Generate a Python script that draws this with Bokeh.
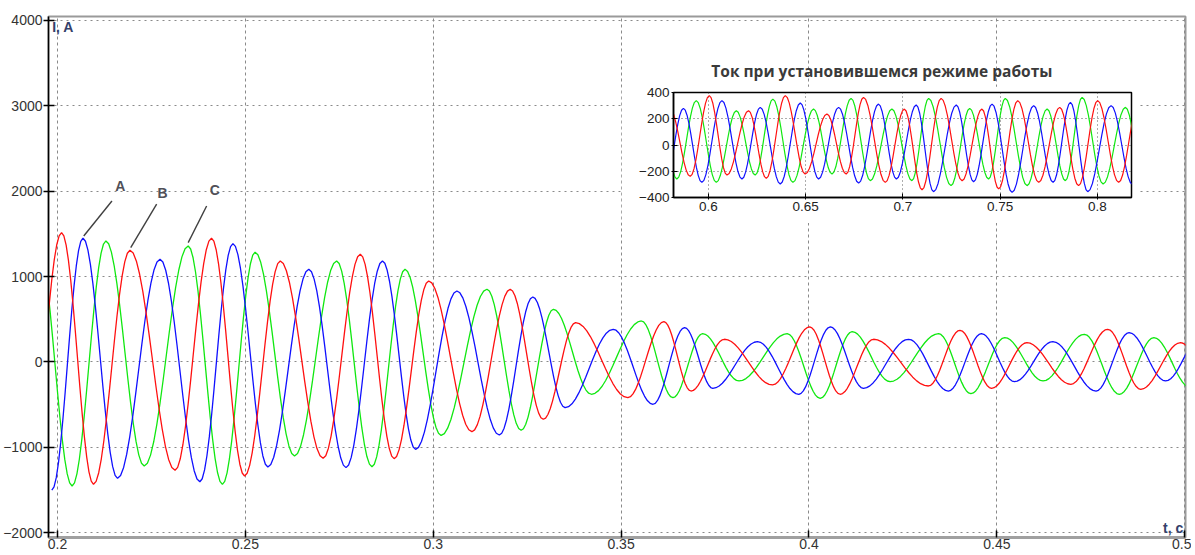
import math
from bokeh.plotting import figure
from bokeh.layouts import column
from bokeh.models import Range1d, FixedTicker
from bokeh.core.properties import value
from bokeh.embed import file_html
from bokeh.resources import INLINE

# ---------------- data: extrema (time s, current A) ----------------
# main window, phase A (blue)
main_a_t = [0.1985, 0.2068, 0.2160, 0.2273, 0.2379, 0.2467, 0.2560, 0.2669, 0.2768, 0.2865, 0.2953,
            0.3063, 0.3176, 0.3265, 0.3351, 0.3479, 0.3585, 0.3669, 0.3744, 0.3863, 0.3973, 0.4057,
            0.4145, 0.4265, 0.4371, 0.4459, 0.4547, 0.4649, 0.4764, 0.4852, 0.4949, 0.5045]
main_a_i = [-1500, 1449, -1362, 1203, -1402, 1386, -1230, 1085, -1237, 1183, -1023,
            831, -855, 761, -535, 383, -495, 402, -308, 238, -378, 410,
            -308, 266, -340, 331, -230, 238, -340, 343, -222, 300]
# main window, phase B (red)
main_b_t = [0.1920, 0.2011, 0.2096, 0.2193, 0.2313, 0.2410, 0.2498, 0.2593, 0.2707, 0.2806, 0.2896,
            0.2988, 0.3103, 0.3205, 0.3293, 0.3379, 0.3518, 0.3614, 0.3686, 0.3775, 0.3903, 0.4002,
            0.4083, 0.4172, 0.4318, 0.4402, 0.4486, 0.4580, 0.4697, 0.4795, 0.4883, 0.4989, 0.5080]
main_b_i = [-1400, 1514, -1432, 1308, -1268, 1449, -1335, 1183, -1128, 1261, -1132,
            948, -816, 851, -671, 460, -418, 472, -340, 266, -269, 410,
            -378, 266, -281, 371, -308, 226, -261, 383, -320, 226, -300]
# main window, phase C (green)
main_c_t = [0.1948, 0.2039, 0.2129, 0.2231, 0.2348, 0.2439, 0.2526, 0.2631, 0.2743, 0.2837, 0.2925,
            0.3021, 0.3143, 0.3234, 0.3320, 0.3421, 0.3554, 0.3638, 0.3717, 0.3814, 0.3942, 0.4030,
            0.4115, 0.4216, 0.4345, 0.4431, 0.4521, 0.4623, 0.4733, 0.4826, 0.4918, 0.5015]
main_c_i = [1400, -1452, 1417, -1218, 1358, -1432, 1285, -1101, 1183, -1226, 1085,
            -860, 851, -800, 617, -378, 480, -418, 331, -222, 331, -425,
            355, -230, 331, -371, 285, -222, 324, -378, 285, -300]

# inset (steady state), phase A (blue)
ins_a_t = [0.5775, 0.5871, 0.5966, 0.6069, 0.6172, 0.6266, 0.6369, 0.6472, 0.6566, 0.6669, 0.6772,
           0.6874, 0.6966, 0.7068, 0.7157, 0.7274, 0.7363, 0.7458, 0.7561, 0.7672, 0.7772, 0.7861,
           0.7950, 0.8070, 0.8180]
ins_a_i = [-300, 279, -285, 338, -259, 287, -297, 320, -259, 287, -290,
           312, -259, 305, -356, 305, -280, 312, -361, 300, -285, 325,
           -356, 300, -300]
# inset, phase B (red)
ins_b_t = [0.5800, 0.5906, 0.6004, 0.6095, 0.6206, 0.6297, 0.6395, 0.6497, 0.6609, 0.6708, 0.6797,
           0.6909, 0.7007, 0.7098, 0.7196, 0.7304, 0.7406, 0.7492, 0.7590, 0.7698, 0.7806, 0.7903,
           0.8001, 0.8109, 0.8210]
ins_b_i = [280, -239, 376, -229, 261, -254, 376, -221, 236, -221, 363,
           -285, 274, -341, 355, -272, 274, -335, 338, -285, 287, -310,
           338, -285, 300]
# inset, phase C (green)
ins_c_t = [0.5745, 0.5837, 0.5937, 0.6040, 0.6143, 0.6240, 0.6331, 0.6434, 0.6540, 0.6635, 0.6733,
           0.6832, 0.6943, 0.7046, 0.7132, 0.7247, 0.7343, 0.7440, 0.7526, 0.7638, 0.7741, 0.7835,
           0.7921, 0.8029, 0.8144, 0.8240]
ins_c_i = [300, -259, 338, -285, 261, -229, 350, -285, 274, -221, 355,
           -272, 274, -272, 355, -310, 279, -259, 355, -310, 274, -272,
           363, -297, 287, -300]

main_x_ticks = [0.2, 0.25, 0.3, 0.35, 0.4, 0.45, 0.5]
main_x_labels = ["0.2", "0.25", "0.3", "0.35", "0.4", "0.45", "0.5"]
main_y_ticks = [-2000, -1000, 0, 1000, 2000, 3000, 4000]
ins_x_ticks = [0.6, 0.65, 0.7, 0.75, 0.8]
ins_x_labels = ["0.6", "0.65", "0.7", "0.75", "0.8"]
ins_y_ticks = [-400, -200, 0, 200, 400]
phase_names = ["A", "B", "C"]
inset_title = "Ток при установившемся режиме работы"
y_axis_label = "I, A"
x_axis_label = "t, c"

COL_A, COL_B, COL_C = "#1010ff", "#ff1010", "#10e810"
FONT = "Liberation Sans"


def smooth(ts, vs, n=14):
    """Smooth half-wave shape between consecutive read extrema."""
    xs, ys = [], []
    for k in range(len(ts) - 1):
        t0, t1, v0, v1 = ts[k], ts[k + 1], vs[k], vs[k + 1]
        for j in range(n):
            f = j / n
            xs.append(t0 + (t1 - t0) * f)
            ys.append((v0 + v1) / 2 + (v0 - v1) / 2 * math.cos(math.pi * f))
    xs.append(ts[-1]); ys.append(vs[-1])
    return xs, ys


# ---------------- main figure ----------------
p = figure(width=1199, height=555, output_backend="svg", toolbar_location=None,
           x_range=Range1d(0.19762, 0.50021), y_range=Range1d(-2055, 4045),
           min_border_left=52, min_border_right=5, min_border_top=16, min_border_bottom=18)
p.margin = (0, 0, 0, -4)
p.background_fill_color = "white"
p.border_fill_color = "white"
p.outline_line_color = "#9a9a9a"
p.outline_line_width = 2

p.xaxis.ticker = FixedTicker(ticks=main_x_ticks)
p.xaxis.major_label_overrides = {t: s for t, s in zip(main_x_ticks, main_x_labels)}
p.yaxis.ticker = FixedTicker(ticks=main_y_ticks)
for ax in (p.xaxis, p.yaxis):
    ax.major_label_text_font = FONT
    ax.major_label_text_font_size = "14px"
    ax.major_label_text_color = "#333333"
    ax.minor_tick_line_color = None
    ax.major_tick_line_color = "black"
    ax.major_tick_line_width = 1.5
p.xaxis.axis_line_color = "#a0a0a0"
p.xaxis.axis_line_width = 3
p.xaxis.major_tick_in = 7
p.xaxis.major_tick_out = 0
p.xaxis.major_label_standoff = 1
p.yaxis.axis_line_color = "black"
p.yaxis.axis_line_width = 1.5
p.yaxis.major_tick_in = 6
p.yaxis.major_tick_out = 5
p.yaxis.major_label_standoff = 1

p.xgrid.ticker = FixedTicker(ticks=main_x_ticks)
p.ygrid.ticker = FixedTicker(ticks=main_y_ticks)
p.xgrid.grid_line_color = "#8a8a8a"
p.xgrid.grid_line_dash = "3 3"
p.ygrid.grid_line_color = "#8a8a8a"
p.ygrid.grid_line_dash = "2 4"

for ts, vs, col in ((main_c_t, main_c_i, COL_C), (main_a_t, main_a_i, COL_A), (main_b_t, main_b_i, COL_B)):
    xs, ys = smooth(ts, vs)
    p.line(xs, ys, line_color=col, line_width=1.3)

# phase labels with leader lines
p.segment(x0=[0.2145, 0.2264, 0.2397], y0=[1885, 1847, 1827],
          x1=[0.2070, 0.2195, 0.2348], y1=[1475, 1338, 1397],
          line_color="#404040", line_width=1.4)
p.text(x=[0.2167, 0.2280, 0.2419], y=[2061, 1982, 2008], text=phase_names,
       text_font=value(FONT), text_font_size="14px", text_font_style="bold",
       text_color="#505058", text_align="center", text_baseline="middle")

p.text(x=[0.19860], y=[3920], text=[y_axis_label], text_font=value(FONT), text_font_size="14px",
       text_font_style="bold", text_color="#34406a", text_align="left", text_baseline="middle")
p.text(x=[0.4996], y=[-1944], text=[x_axis_label], text_font=value(FONT), text_font_size="14px",
       text_font_style="bold", text_color="#34406a", text_align="right", text_baseline="middle")
p.text(x=[0.4194], y=[3408], text=[inset_title], text_font=value("Open Sans"), text_font_size="15.5px",
       text_font_style="bold", text_color="#3a3a3a", text_align="center", text_baseline="middle")

# ---------------- inset figure ----------------
q = figure(frame_width=458, frame_height=105, output_backend="svg", toolbar_location=None,
           x_range=Range1d(0.582, 0.8175), y_range=Range1d(-400, 400),
           min_border_left=52, min_border_right=6, min_border_top=6, min_border_bottom=26)
q.background_fill_color = "white"
q.border_fill_color = "white"
q.outline_line_color = "black"
q.outline_line_width = 1.5
q.xaxis.ticker = FixedTicker(ticks=ins_x_ticks)
q.xaxis.major_label_overrides = {t: s for t, s in zip(ins_x_ticks, ins_x_labels)}
q.yaxis.ticker = FixedTicker(ticks=ins_y_ticks)
for ax in (q.xaxis, q.yaxis):
    ax.major_label_text_font = FONT
    ax.major_label_text_font_size = "13.5px"
    ax.major_label_text_color = "#222222"
    ax.minor_tick_line_color = None
    ax.major_tick_line_color = "black"
    ax.major_tick_in = 4
    ax.major_tick_out = 2
    ax.axis_line_color = "black"
    ax.axis_line_width = 1.5
    ax.major_label_standoff = 2
q.xgrid.ticker = FixedTicker(ticks=ins_x_ticks)
q.ygrid.ticker = FixedTicker(ticks=ins_y_ticks)
for g in (q.xgrid, q.ygrid):
    g.grid_line_color = "#333333"
    g.grid_line_dash = "1 3"
    g.grid_line_alpha = 0.8

for ts, vs, col in ((ins_c_t, ins_c_i, COL_C), (ins_a_t, ins_a_i, COL_A), (ins_b_t, ins_b_i, COL_B)):
    xs, ys = smooth(ts, vs, n=10)
    q.line(xs, ys, line_color=col, line_width=1.2)

q.styles = {"position": "absolute", "left": "621px", "top": "86px", "z-index": "5"}

layout = column(p, q, styles={"position": "relative"})

with open("out.html", "w") as f:
    f.write(file_html(layout, INLINE))
